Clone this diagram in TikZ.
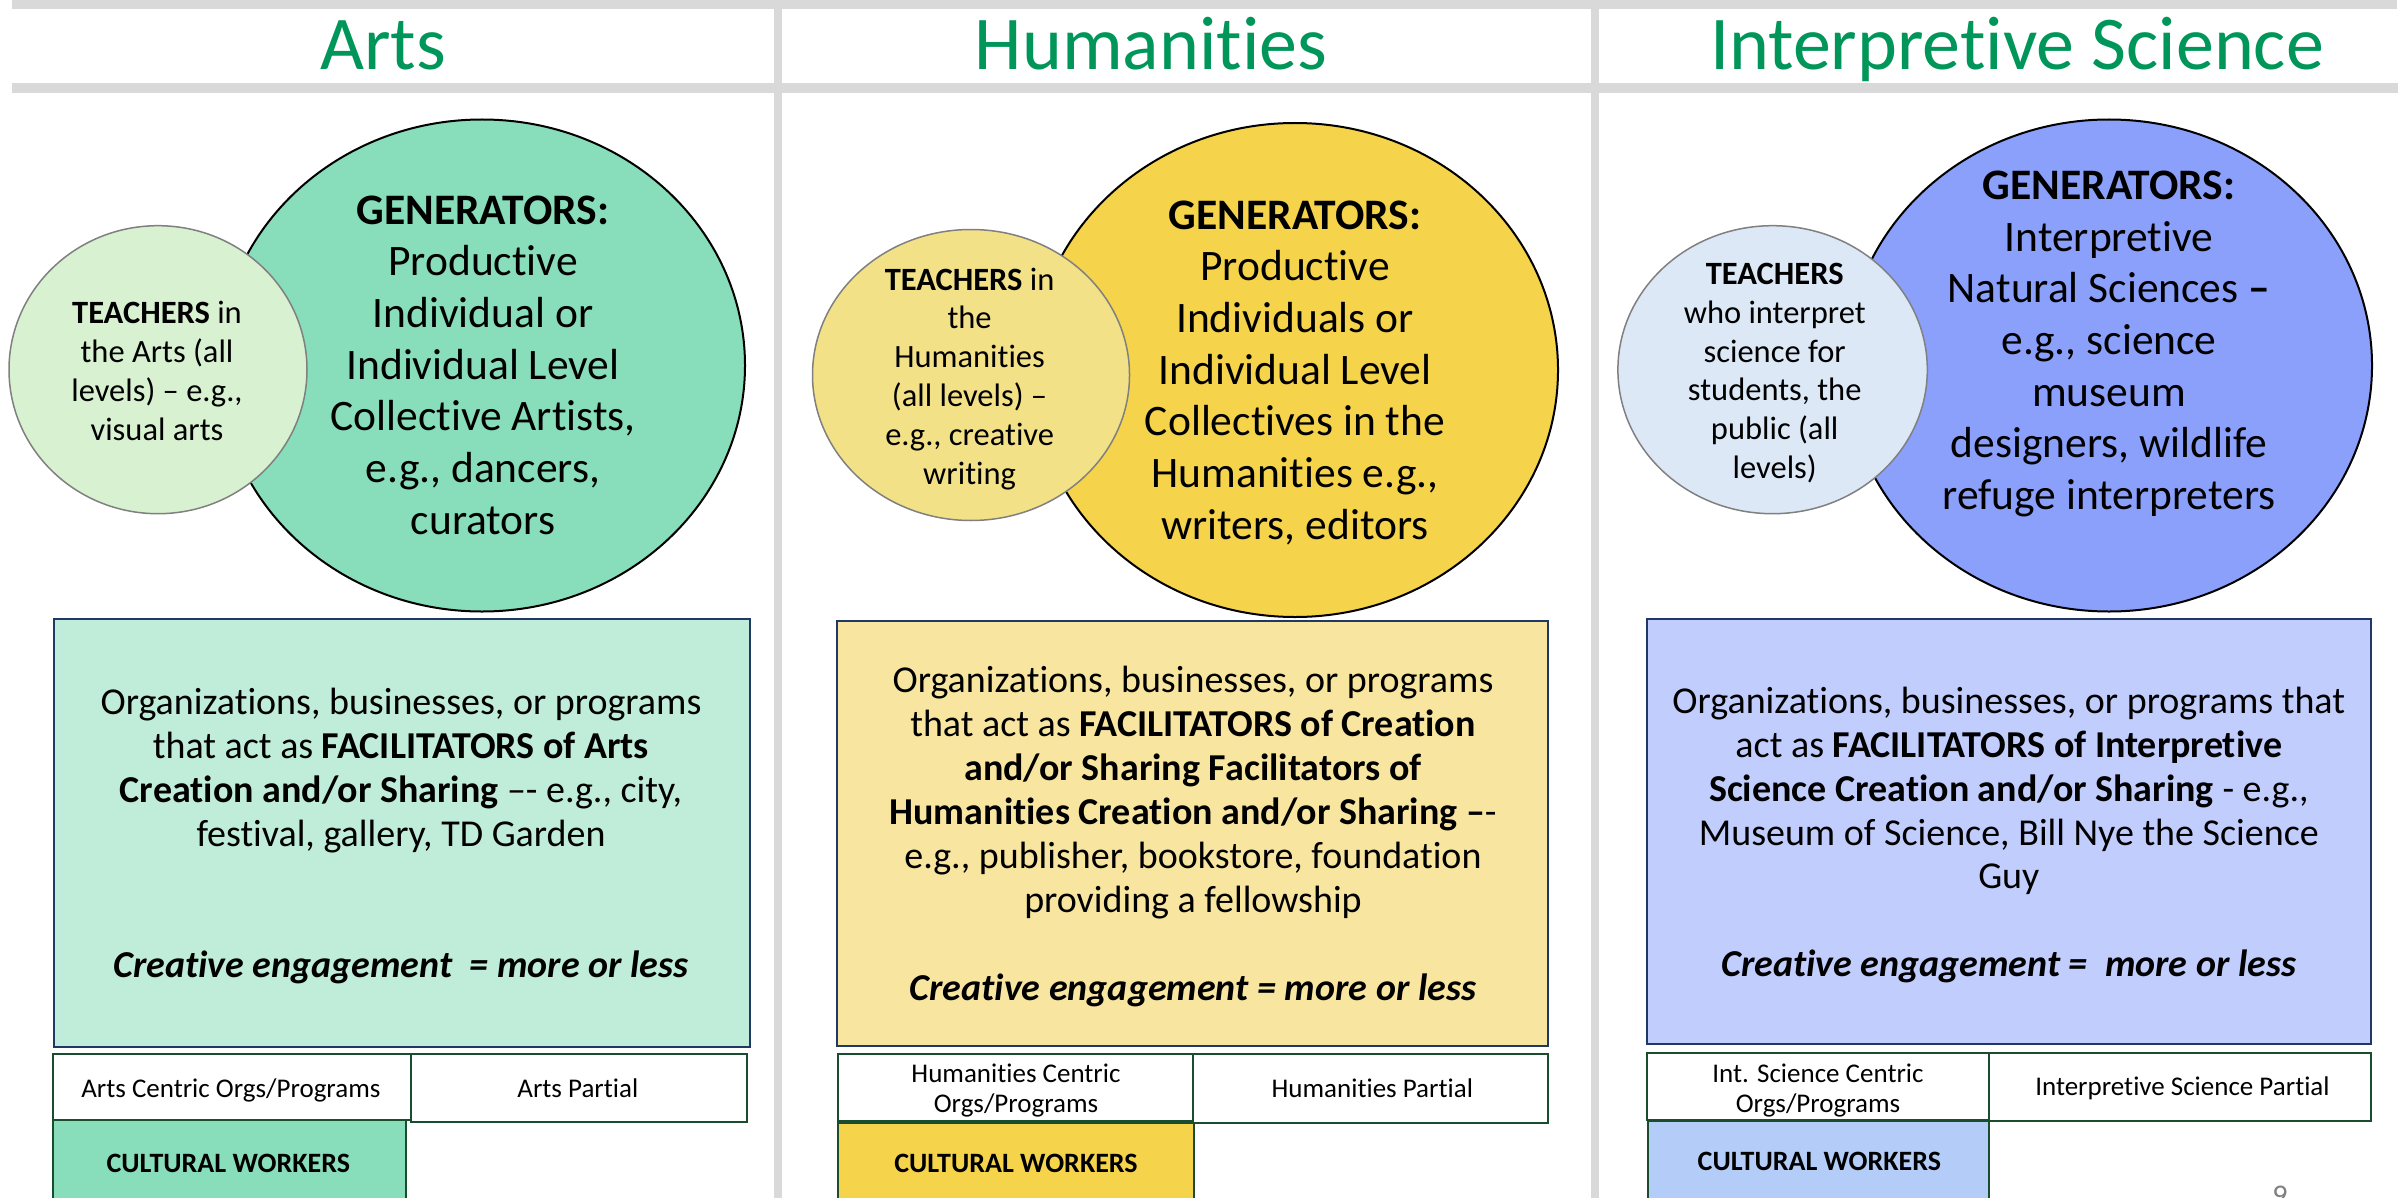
\documentclass[tikz,border=0pt]{standalone}
\usepackage{fontspec}
\setmainfont{Carlito}[Ligatures={TeX,NoCommon,NoRare,NoContextual}]
\definecolor{cd9d9d9}{RGB}{217,217,217}
\definecolor{c00965a}{RGB}{0,150,90}
\definecolor{c88ddbb}{RGB}{136,221,187}
\definecolor{cd7f1d1}{RGB}{215,241,209}
\definecolor{cc0ecda}{RGB}{192,236,218}
\definecolor{cf5d34a}{RGB}{245,211,74}
\definecolor{cf3e187}{RGB}{243,225,135}
\definecolor{cf8e6a0}{RGB}{248,230,160}
\definecolor{c8aa0fa}{RGB}{138,160,250}
\definecolor{cdce8f6}{RGB}{220,232,246}
\definecolor{cc1cdfc}{RGB}{193,205,252}
\definecolor{cb4ccf8}{RGB}{180,204,248}
\definecolor{c1f3864}{RGB}{31,56,100}
\definecolor{c1a4d2e}{RGB}{26,77,46}
\definecolor{c808080}{RGB}{128,128,128}

\begin{document}
\begin{tikzpicture}[y=0.3pt, x=0.3pt, yscale=-1, inner sep=0pt, outer sep=0pt,
  band/.style={fill=cd9d9d9},
  gen/.style={draw=black, line width=0.6pt},
  teach/.style={draw=c808080, line width=0.45pt},
  facil/.style={draw=c1f3864, line width=0.6pt},
  cell/.style={draw=c1a4d2e, line width=0.6pt},
  head/.style={text=c00965a, anchor=base, font=\fontsize{22.8}{27}\selectfont},
  gentext/.style={align=center, font=\fontsize{13.05}{15.5}\selectfont},
  teachtext/.style={align=center, font=\fontsize{9.75}{11.64}\selectfont},
  faciltext/.style={align=center, font=\fontsize{11.4}{13.17}\selectfont},
  celltext/.style={align=center, font=\fontsize{8.1}{9.15}\selectfont},
  workertext/.style={anchor=base, font=\bfseries\fontsize{8.4}{10}\selectfont}]
  \useasboundingbox (0,0) rectangle (2405,1198);
  \path[fill=white] (0,0) rectangle (2405,1198);

  % header bands and column rules
  \path[band] (12,0) rectangle (2397,9);
  \path[band] (12,83) rectangle (2398,93);
  \path[band] (774,0) rectangle (782,1198);
  \path[band] (1591,0) rectangle (1599,1198);
  \path (383,70) node[head] (titleArts) {Arts};
  \path (1151,70) node[head] (titleHum) {Humanities};
  \path (2017,70) node[head] (titleSci) {Interpretive Science};

  % Arts
  \path[gen,fill=c88ddbb] (482,365.5) ellipse (263 and 246);
  \path[teach,fill=cd7f1d1] (158,369.7) ellipse (149 and 144);
  \path (157,371) node[teachtext] (teachArts)
    {\textbf{TEACHERS} in\\the Arts (all\\levels) – e.g.,\\visual arts};
  \path (483,365) node[gentext] (genArts)
    {\textbf{GENERATORS:}\\Productive\\Individual or\\Individual Level\\Collective Artists,\\e.g., dancers,\\curators};
  \path[facil,fill=cc0ecda] (54,619) rectangle (750,1047);
  \path (401,836) node[faciltext] (facilArts)
    {Organizations, businesses, or programs\\that act as \textbf{FACILITATORS of Arts}\\\textbf{Creation and/or Sharing} –- e.g., city,\\festival, gallery, TD Garden\\[2\baselineskip]\textbf{\textit{Creative engagement\ \ = more or less}}};
  \path[cell,fill=white] (52.6,1053.8) rectangle (410.7,1119.5);
  \path[cell,fill=white] (410.7,1053.8) rectangle (747.4,1122);
  \path[cell,fill=c88ddbb] (52.6,1119.5) rectangle (405.6,1215);
  \path (230.8,1097.7) node[celltext,anchor=base] (centricArts) {Arts Centric Orgs/Programs};
  \path (577.8,1097.7) node[celltext,anchor=base] (partialArts) {Arts Partial};
  \path (228.3,1172) node[workertext] (workersArts) {CULTURAL WORKERS};

  % Humanities
  \path[gen,fill=cf5d34a] (1295,370) ellipse (263 and 247);
  \path[teach,fill=cf3e187] (971,375) ellipse (158.5 and 145.5);
  \path (969.6,378.8) node[teachtext] (teachHum)
    {\textbf{TEACHERS} in\\the\\Humanities\\(all levels) –\\e.g., creative\\writing};
  \path (1295,372.6) node[gentext] (genHum)
    {\textbf{GENERATORS:}\\Productive\\Individuals or\\Individual Level\\Collectives in the\\Humanities e.g.,\\writers, editors};
  \path[facil,fill=cf8e6a0] (836.5,621) rectangle (1547.8,1046);
  \path (1193,836.5) node[faciltext] (facilHum)
    {Organizations, businesses, or programs\\that act as \textbf{FACILITATORS of Creation}\\\textbf{and/or Sharing Facilitators of}\\\textbf{Humanities Creation and/or Sharing –}-\\e.g., publisher, bookstore, foundation\\providing a fellowship\\[\baselineskip]\textbf{\textit{Creative engagement = more or less}}};
  \path[cell,fill=white] (837.5,1053.8) rectangle (1193,1120.6);
  \path[cell,fill=white] (1193,1053.8) rectangle (1547.8,1122.5);
  \path[cell,fill=cf5d34a] (837.5,1122.5) rectangle (1194,1215);
  \path (1016,1090.7) node[celltext] (centricHum) {Humanities Centric\\Orgs/Programs};
  \path (1372.3,1097.7) node[celltext,anchor=base] (partialHum) {Humanities Partial};
  \path (1016,1172) node[workertext] (workersHum) {CULTURAL WORKERS};

  % Interpretive Science
  \path[gen,fill=c8aa0fa] (2109,365.5) ellipse (263 and 246);
  \path[teach,fill=cdce8f6] (1772.6,369.7) ellipse (154.7 and 144);
  \path (1774.7,373) node[teachtext] (teachSci)
    {\textbf{TEACHERS}\\who interpret\\science for\\students, the\\public (all\\levels)};
  \path (2109,343.9) node[gentext] (genSci)
    {\textbf{GENERATORS:}\\Interpretive\\Natural Sciences \textbf{–}\\e.g., science\\museum\\designers, wildlife\\refuge interpreters};
  \path[facil,fill=cc1cdfc] (1646.8,619) rectangle (2370.8,1044.3);
  \path (2008.8,835) node[faciltext] (facilSci)
    {Organizations, businesses, or programs that\\act as \textbf{FACILITATORS of Interpretive}\\\textbf{Science Creation and/or Sharing} - e.g.,\\Museum of Science, Bill Nye the Science\\Guy\\[\baselineskip]\textbf{\textit{Creative engagement =\ \ more or less}}};
  \path[cell,fill=white] (1646.8,1052.7) rectangle (1988.8,1119.5);
  \path[cell,fill=white] (1988.8,1052.7) rectangle (2370.8,1121);
  \path[cell,fill=cb4ccf8] (1648.4,1120.6) rectangle (1988.8,1215);
  \path (1818,1090.7) node[celltext] (centricSci) {Int. Science Centric\\Orgs/Programs};
  \path (2182.4,1095.8) node[celltext,anchor=base] (partialSci) {Interpretive Science Partial};
  \path (1819.4,1170) node[workertext] (workersSci) {CULTURAL WORKERS};

  \path (2280,1205) node[anchor=base, text=c808080, font=\fontsize{9}{11}\selectfont] (pageNum) {9};
\end{tikzpicture}
\end{document}
